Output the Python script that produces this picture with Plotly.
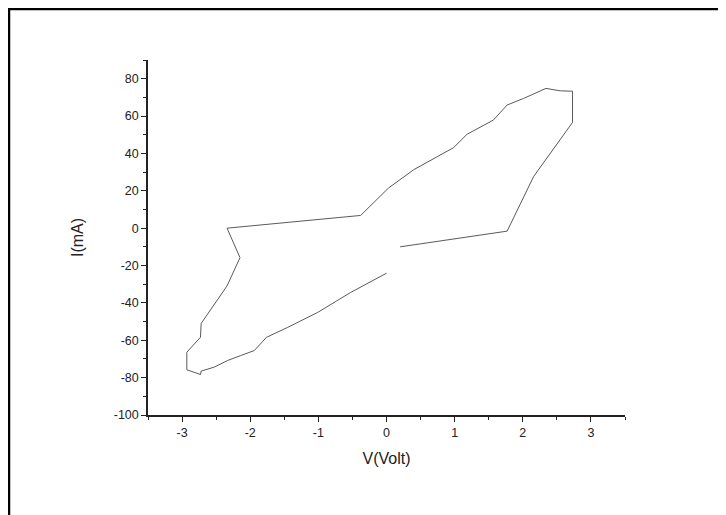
import plotly.graph_objects as go

# I-V sweep (V in volts, I in mA)
voltage = [0.20, 1.77, 2.16, 2.35, 2.55, 2.73, 2.73, 2.55, 2.34, 2.21, 2.01, 1.77,
           1.57, 1.18, 0.985, 0.40, 0.03, -0.38, -2.34, -2.15, -2.34, -2.72, -2.73,
           -2.93, -2.93, -2.73, -2.72, -2.53, -2.33, -2.14, -1.94, -1.76, -1.45,
           -1.01, -0.53, 0.0]
current = [-10.0, -1.6, 27.7, 37.4, 48.1, 56.6, 73.3, 73.5, 74.8, 72.6, 69.4, 65.9,
           57.9, 50.2, 43.1, 31.3, 21.5, 6.8, 0.0, -15.8, -30.9, -51.0, -58.4,
           -66.4, -75.8, -78.3, -76.5, -74.4, -70.8, -68.2, -65.5, -58.4, -53.1,
           -45.1, -34.5, -24.1]

x_tickvals = [-3, -2, -1, 0, 1, 2, 3]
x_ticktext = ["-3", "-2", "-1", "0", "1", "2", "3"]
y_tickvals = [-100, -80, -60, -40, -20, 0, 20, 40, 60, 80]
y_ticktext = ["-100", "-80", "-60", "-40", "-20", "0", "20", "40", "60", "80"]

fig = go.Figure()
fig.add_trace(go.Scatter(x=voltage, y=current, mode="lines",
                         line=dict(color="#5a5a5a", width=1),
                         showlegend=False, hoverinfo="skip"))

font_tick = dict(family="Liberation Sans, Arial, sans-serif", size=12.5, color="#222")
font_title = dict(family="Liberation Sans, Arial, sans-serif", size=16, color="#222")

# page body adds 8px offset; margins compensate so the plot area lands where the reference has it
L, T, PW, PH = 140, 52, 477, 355
W, H = 718, 507

fig.update_layout(
    width=W, height=H,
    margin=dict(l=L, r=W - L - PW, t=T, b=H - T - PH),
    paper_bgcolor="white", plot_bgcolor="white",
    xaxis=dict(range=[-3.5, 3.5], tickvals=x_tickvals, ticktext=x_ticktext,
               ticks="outside", ticklen=5, tickwidth=1.2, tickcolor="#222",
               showline=True, linecolor="#222", linewidth=1.5,
               showgrid=False, zeroline=False, tickfont=font_tick,
               minor=dict(dtick=0.5, tick0=-3.5, ticks="outside", ticklen=3,
                          tickcolor="#222", tickwidth=1.2, showgrid=False),
               title=dict(text="V(Volt)", font=font_title, standoff=14),
               automargin=False),
    yaxis=dict(range=[-100, 90], tickvals=y_tickvals, ticktext=y_ticktext,
               ticks="outside", ticklen=5, tickwidth=1.2, tickcolor="#222",
               showline=True, linecolor="#222", linewidth=1.5,
               showgrid=False, zeroline=False, tickfont=font_tick,
               minor=dict(dtick=10, tick0=-100, ticks="outside", ticklen=3,
                          tickcolor="#222", tickwidth=1.2, showgrid=False),
               title=dict(text="I(mA)", font=font_title, standoff=26),
               automargin=False),
    shapes=[
        dict(type="line", xref="paper", yref="paper",
             x0=(1 - L) / PW, x1=(1 - L) / PW,
             y0=(T + PH - H) / PH, y1=(T + PH) / PH,
             line=dict(color="black", width=2.5)),
        dict(type="line", xref="paper", yref="paper",
             x0=(0 - L) / PW, x1=(W - 3 - L) / PW,
             y0=(T + PH - 1) / PH, y1=(T + PH - 1) / PH,
             line=dict(color="black", width=2.5)),
    ],
)

fig.write_html("out.html")
